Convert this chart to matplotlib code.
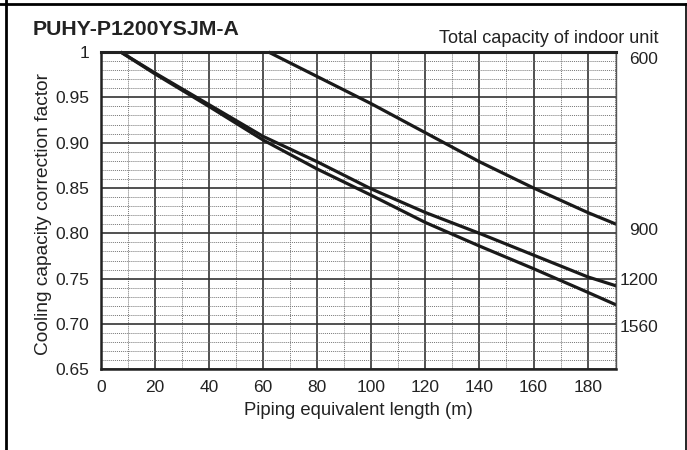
import matplotlib
matplotlib.use('Agg')
import matplotlib.pyplot as plt
from matplotlib.lines import Line2D
from matplotlib.ticker import MultipleLocator

plt.rcParams['font.family'] = ['Liberation Sans', 'DejaVu Sans']

# data
length_900 = [62, 80, 100, 120, 140, 160, 180, 190.6]
cf_900 = [1.0, 0.973, 0.943, 0.911, 0.879, 0.850, 0.823, 0.810]
length_1200 = [7.4, 20, 40, 60, 80, 100, 120, 140, 160, 180, 190.6]
cf_1200 = [1.0, 0.977, 0.942, 0.907, 0.879, 0.849, 0.823, 0.800, 0.776, 0.752, 0.742]
length_1560 = [7.4, 20, 40, 60, 80, 100, 120, 140, 160, 180, 190.6]
cf_1560 = [1.0, 0.976, 0.940, 0.903, 0.871, 0.842, 0.812, 0.786, 0.761, 0.735, 0.721]

cap_labels = ['600', '900', '1200', '1560']
cap_label_y = [0.992, 0.803, 0.748, 0.696]

x_ticks = [0, 20, 40, 60, 80, 100, 120, 140, 160, 180]
y_ticks = [0.65, 0.70, 0.75, 0.80, 0.85, 0.90, 0.95, 1.0]
y_ticklabels = ['0.65', '0.70', '0.75', '0.80', '0.85', '0.90', '0.95', '1']

fig = plt.figure(figsize=(6.87, 4.5), dpi=100)
ax = fig.add_axes([0.1466, 0.1793, 0.7505, 0.7051])

# frame around the figure (top, left, right)
fig.add_artist(Line2D([0, 1], [1 - 3.7/450, 1 - 3.7/450], color='black', lw=2.0))
fig.add_artist(Line2D([5.7/687, 5.7/687], [0, 1], color='black', lw=2.0))
fig.add_artist(Line2D([685.7/687, 685.7/687], [0, 1 - 3.7/450], color='black', lw=1.2))

ax.set_xlim(0, 190.6)
ax.set_ylim(0.65, 1.0)
ax.xaxis.set_minor_locator(MultipleLocator(10))
ax.yaxis.set_minor_locator(MultipleLocator(0.01))
ax.set_xticks(x_ticks)
ax.set_yticks(y_ticks)
ax.set_yticklabels(y_ticklabels)

ax.grid(which='major', color='#333333', lw=1.2, ls='-')
ax.grid(which='minor', color='#777777', lw=0.7, ls=(0, (1, 1)))
ax.set_axisbelow(True)
ax.tick_params(which='both', length=0, labelsize=12.5, pad=8, colors='#222222')

for s in ['left', 'bottom']:
    ax.spines[s].set_linewidth(1.8)
    ax.spines[s].set_color('#222222')
ax.spines['top'].set_linewidth(2.2)
ax.spines['top'].set_color('#222222')
ax.spines['right'].set_linewidth(1.0)
ax.spines['right'].set_color('#555555')

for lx, ly in [(length_900, cf_900), (length_1200, cf_1200), (length_1560, cf_1560)]:
    ax.plot(lx, ly, color='#1a1a1a', lw=2.3, solid_capstyle='butt', clip_on=False)

for lab, yy in zip(cap_labels, cap_label_y):
    ax.text(1.081, yy, lab, transform=ax.get_yaxis_transform(), ha='right', va='center',
            fontsize=12.5, color='#222222')

ax.text(1.081, 1.0293, 'Total capacity of indoor unit', transform=ax.transAxes,
        ha='right', va='baseline', fontsize=13.1, color='#222222')
fig.text(33/687, 1 - 35/450, 'PUHY-P1200YSJM-A', ha='left', va='baseline',
         fontsize=15.3, fontweight='bold', color='#222222')

ax.set_xlabel('Piping equivalent length (m)', fontsize=13.3, color='#222222', labelpad=5)
ax.set_ylabel('Cooling capacity correction factor', fontsize=13.8, color='#222222')
ax.yaxis.set_label_coords(-0.095, 0.49)

fig.savefig('out.png', dpi=100)
